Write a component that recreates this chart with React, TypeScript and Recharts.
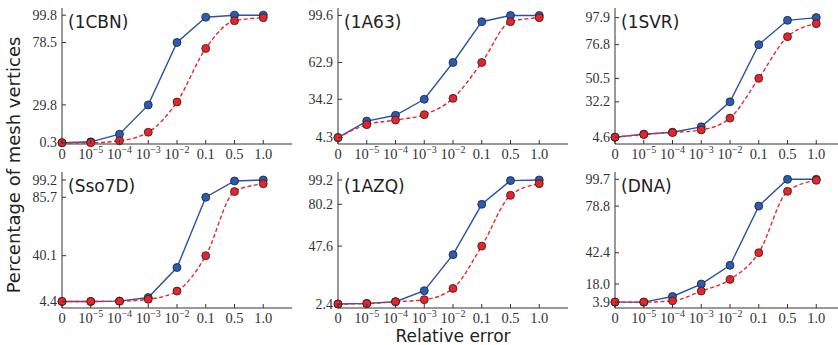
import { LineChart, Line, XAxis, YAxis } from "recharts";

// x categories (relative error), drawn at evenly spaced positions 0..7
const xTicks = [0, 1, 2, 3, 4, 5, 6, 7];
const xBase = ["0", "10", "10", "10", "10", "0.1", "0.5", "1.0"];
const xExp = ["", "\u22125", "\u22124", "\u22123", "\u22122", "", "", ""];

const titles = ["(1CBN)", "(1A63)", "(1SVR)", "(Sso7D)", "(1AZQ)", "(DNA)"];

const yTicks1CBN = [0.3, 29.8, 78.5, 99.8];
const blue1CBN = [0.3, 1.0, 7.0, 29.8, 78.5, 98.2, 99.8, 99.8];
const red1CBN = [0.3, 0.3, 1.8, 8.5, 32.1, 73.9, 95.4, 97.8];

const yTicks1A63 = [4.3, 34.2, 62.9, 99.6];
const blue1A63 = [4.3, 17.2, 21.7, 34.2, 62.9, 94.7, 99.6, 99.6];
const red1A63 = [4.3, 14.4, 18.0, 22.2, 34.9, 62.9, 94.7, 97.8];

const yTicks1SVR = [4.6, 32.2, 50.5, 76.8, 97.9];
const blue1SVR = [4.6, 7.0, 8.5, 12.7, 32.2, 76.8, 95.8, 97.9];
const red1SVR = [4.6, 6.7, 8.2, 10.3, 19.5, 50.5, 83.0, 93.2];

const yTicksSso7D = [4.4, 40.1, 85.7, 99.2];
const blueSso7D = [4.4, 4.4, 4.7, 7.5, 30.9, 85.7, 98.4, 99.2];
const redSso7D = [4.4, 4.4, 4.6, 6.1, 12.5, 40.1, 90.1, 96.2];

const yTicks1AZQ = [2.4, 47.6, 80.2, 99.2];
const blue1AZQ = [2.4, 2.9, 4.2, 12.8, 40.9, 80.2, 98.7, 99.2];
const red1AZQ = [2.4, 2.7, 4.2, 5.8, 14.6, 47.6, 87.2, 96.3];

const yTicksDNA = [3.9, 18.0, 42.4, 78.8, 99.7];
const blueDNA = [3.9, 3.9, 8.3, 18.0, 32.6, 78.8, 99.7, 99.7];
const redDNA = [3.9, 3.9, 4.9, 12.5, 21.6, 42.4, 90.3, 98.9];

const Y_DOMAIN: [number, number] = [-0.7, 105.4];

const PLOT_W = 230;
const PLOT_H = 136;
const AXIS_W = 55;
const BOTTOM_H = 30;
const PAD = 5;

const SPINE = "#333";
const SERIF = "'Liberation Serif', 'Times New Roman', serif";
const SANS = "'DejaVu Sans', sans-serif";

const panels = [
  { left: 62, top: 8, yTicks: yTicks1CBN, blue: blue1CBN, red: red1CBN },
  { left: 338, top: 8, yTicks: yTicks1A63, blue: blue1A63, red: red1A63 },
  { left: 615, top: 8, yTicks: yTicks1SVR, blue: blue1SVR, red: red1SVR },
  { left: 62, top: 172, yTicks: yTicksSso7D, blue: blueSso7D, red: redSso7D },
  { left: 338, top: 172, yTicks: yTicks1AZQ, blue: blue1AZQ, red: red1AZQ },
  { left: 615, top: 172, yTicks: yTicksDNA, blue: blueDNA, red: redDNA },
];

function BottomTick(props: any) {
  const { x, y, payload } = props;
  const i = payload.value;
  return (
    <g>
      <line x1={x} x2={x} y1={y} y2={y - 4} stroke={SPINE} strokeWidth={1} />
      <text
        x={x}
        y={y + 14.5}
        textAnchor="middle"
        fontFamily={SERIF}
        fontSize={14.5}
        fill="#333"
      >
        <tspan>{xBase[i]}</tspan>
        {xExp[i] && (
          <tspan dy={-6} fontSize={10}>
            {xExp[i]}
          </tspan>
        )}
      </text>
    </g>
  );
}

function TopTick(props: any) {
  const { x, y } = props;
  return <line x1={x} x2={x} y1={y} y2={y + 4} stroke={SPINE} strokeWidth={1} />;
}

function LeftTick(props: any) {
  const { x, y, payload } = props;
  return (
    <g>
      <line x1={x} x2={x + 4} y1={y} y2={y} stroke={SPINE} strokeWidth={1} />
      <text
        x={x - 5}
        y={y + 4.6}
        textAnchor="end"
        fontFamily={SERIF}
        fontSize={14}
        fill="#333"
      >
        {Number(payload.value).toFixed(1)}
      </text>
    </g>
  );
}

function RightTick(props: any) {
  const { x, y } = props;
  return <line x1={x} x2={x - 4} y1={y} y2={y} stroke={SPINE} strokeWidth={1} />;
}

function Panel({ left, top, yTicks, blue, red }: any) {
  const data = xTicks.map((x, i) => ({ x, blue: blue[i], red: red[i] }));
  return (
    <div style={{ position: "absolute", left: left - AXIS_W, top: top - PAD }}>
      <LineChart
        width={AXIS_W + PLOT_W + PAD}
        height={PAD + PLOT_H + BOTTOM_H}
        data={data}
        margin={{ top: PAD, right: PAD, bottom: 0, left: 0 }}
      >
        <XAxis
          dataKey="x"
          type="number"
          domain={[0, 8]}
          ticks={xTicks}
          interval={0}
          height={BOTTOM_H}
          tickSize={0}
          tickMargin={0}
          axisLine={{ stroke: SPINE }}
          tick={(p: any) => <BottomTick {...p} />}
        />
        <XAxis
          xAxisId="top"
          orientation="top"
          dataKey="x"
          type="number"
          domain={[0, 8]}
          ticks={xTicks}
          interval={0}
          height={0}
          tickSize={0}
          tickMargin={0}
          axisLine={{ stroke: SPINE }}
          tick={(p: any) => <TopTick {...p} />}
        />
        <YAxis
          type="number"
          domain={Y_DOMAIN}
          ticks={yTicks}
          interval={0}
          width={AXIS_W}
          tickSize={0}
          tickMargin={0}
          axisLine={{ stroke: SPINE }}
          tick={(p: any) => <LeftTick {...p} />}
        />
        <YAxis
          yAxisId="right"
          orientation="right"
          type="number"
          domain={Y_DOMAIN}
          ticks={yTicks}
          interval={0}
          width={0}
          tickSize={0}
          tickMargin={0}
          axisLine={{ stroke: SPINE }}
          tick={(p: any) => <RightTick {...p} />}
        />
        <Line
          dataKey="blue"
          type="linear"
          stroke="#2a52a6"
          strokeWidth={1.4}
          dot={{ r: 4, fill: "#2b5cb3", stroke: "#222", strokeWidth: 0.8 }}
          isAnimationActive={false}
        />
        <Line
          dataKey="red"
          type="monotone"
          stroke="#e8262b"
          strokeWidth={1.4}
          strokeDasharray="4 2.5"
          dot={{
            r: 4,
            fill: "#e8232a",
            stroke: "#222",
            strokeWidth: 0.8,
            strokeDasharray: "0",
          }}
          isAnimationActive={false}
        />
      </LineChart>
    </div>
  );
}

export default function App() {
  return (
    <div
      style={{
        position: "absolute",
        left: 0,
        top: 0,
        width: 838,
        height: 345,
        overflow: "hidden",
        background: "#fff",
      }}
    >
      {panels.map((p, i) => (
        <Panel key={i} {...p} />
      ))}
      <svg
        width={838}
        height={345}
        style={{ position: "absolute", left: 0, top: 0, pointerEvents: "none" }}
      >
        {panels.map((p, i) => (
          <text
            key={i}
            x={p.left + 6}
            y={p.top + 20}
            fontFamily={SANS}
            fontSize={17}
            fill="#222"
          >
            {titles[i]}
          </text>
        ))}
        <text
          x={453}
          y={341.5}
          textAnchor="middle"
          fontFamily={SANS}
          fontSize={17}
          fill="#222"
        >
          Relative error
        </text>
        <text
          transform="translate(20,165) rotate(-90)"
          textAnchor="middle"
          fontFamily={SANS}
          fontSize={18}
          fill="#222"
        >
          Percentage of mesh vertices
        </text>
      </svg>
    </div>
  );
}
